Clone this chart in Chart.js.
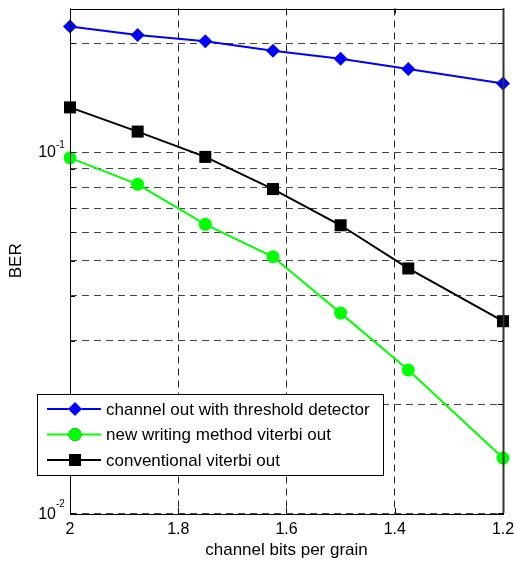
<!DOCTYPE html>
<html>
<head>
<meta charset="utf-8">
<script src="https://cdn.jsdelivr.net/npm/chart.js@4/dist/chart.umd.min.js"></script>
<style>
  html, body { margin: 0; padding: 0; background: #fff; }
  canvas { display: block; }
</style>
</head>
<body>
<canvas id="ber" width="515" height="561"></canvas>
<script>
const bitsPerGrain = [2, 1.875, 1.75, 1.625, 1.5, 1.375, 1.2]
const thresholdBER = [0.223, 0.211, 0.203, 0.191, 0.1815, 0.170, 0.155]
const newWritingBER = [0.0964, 0.0814, 0.0631, 0.0513, 0.0358, 0.0249, 0.0142]
const conventionalBER = [0.133, 0.114, 0.097, 0.079, 0.0627, 0.0476, 0.034]

const xTicks = [2, 1.8, 1.6, 1.4, 1.2]
const yGridTicks = [0.01, 0.02, 0.03, 0.04, 0.05, 0.06, 0.07, 0.08, 0.09, 0.1, 0.2]
const yLabelValues = [0.01, 0.1]
const yLabelExponents = ['-2', '-1']

const FONT = "'Liberation Sans', Arial, sans-serif"

const series = [
  { label: 'channel out with threshold detector', data: thresholdBER, color: '#0000ff', style: 'rectRot', radius: 7 },
  { label: 'new writing method viterbi out', data: newWritingBER, color: '#00ff00', style: 'circle', radius: 6.5 },
  { label: 'conventional viterbi out', data: conventionalBER, color: '#000000', style: 'rect', radius: 8.5 },
]

// box, inward ticks, log labels, axis titles and the legend, matlab style
const matlabDecor = {
  id: 'matlabDecor',
  afterDraw(chart) {
    const { ctx, chartArea: a, scales } = chart
    ctx.save()

    ctx.strokeStyle = '#000'
    ctx.lineWidth = 1
    ctx.setLineDash([])
    ctx.beginPath()
    xTicks.forEach(v => {
      const px = Math.round(scales.x.getPixelForValue(v)) + 0.5
      ctx.moveTo(px, a.bottom); ctx.lineTo(px, a.bottom - 5)
      ctx.moveTo(px, a.top); ctx.lineTo(px, a.top + 5)
    })
    yGridTicks.forEach(v => {
      const py = Math.round(scales.y.getPixelForValue(v)) + 0.5
      ctx.moveTo(a.left, py); ctx.lineTo(a.left + 5, py)
      ctx.moveTo(a.right, py); ctx.lineTo(a.right - 5, py)
    })
    ctx.stroke()

    ctx.strokeRect(Math.round(a.left) + 0.5, Math.round(a.top) + 0.5,
      Math.round(a.right - a.left), Math.round(a.bottom - a.top))
    ctx.strokeStyle = '#333'
    ctx.lineWidth = 2
    ctx.beginPath()
    ctx.moveTo(Math.round(a.right) + 0.5, a.top)
    ctx.lineTo(Math.round(a.right) + 0.5, a.bottom)
    ctx.stroke()

    // 10^n labels
    ctx.fillStyle = '#000'
    yLabelValues.forEach((v, i) => {
      const py = scales.y.getPixelForValue(v)
      ctx.font = '16px ' + FONT
      ctx.textAlign = 'right'
      ctx.textBaseline = 'alphabetic'
      ctx.fillText('10', 56, py + (i === 0 ? 6 : 5))
      ctx.font = '10px ' + FONT
      ctx.textAlign = 'left'
      ctx.fillText(yLabelExponents[i], 56, py - (i === 0 ? 6 : 4))
    })

    // axis titles
    ctx.font = '17px ' + FONT
    ctx.textAlign = 'center'
    ctx.textBaseline = 'middle'
    ctx.fillText('channel bits per grain', (a.left + a.right) / 2, 550)
    ctx.save()
    ctx.translate(16, (a.top + a.bottom) / 2)
    ctx.rotate(-Math.PI / 2)
    ctx.fillText('BER', 0, 0)
    ctx.restore()

    // legend
    const lx = 37, ly = 394, lw = 346, lh = 81
    ctx.fillStyle = '#fff'
    ctx.fillRect(lx, ly, lw, lh)
    ctx.strokeStyle = '#000'
    ctx.lineWidth = 1
    ctx.strokeRect(lx + 0.5, ly + 0.5, lw, lh)
    chart.data.datasets.forEach((ds, i) => {
      const y = ly + 15 + i * 25.5
      ctx.strokeStyle = ds.borderColor
      ctx.lineWidth = 2
      ctx.beginPath()
      ctx.moveTo(47, y); ctx.lineTo(101, y)
      ctx.stroke()
      Chart.helpers.drawPoint(ctx, {
        pointStyle: ds.pointStyle, radius: ds.pointRadius, rotation: 0, borderWidth: 0,
      }, 75, y)
      ctx.fillStyle = ds.pointBackgroundColor
      ctx.fill()
      ctx.fillStyle = '#000'
      ctx.font = '17px ' + FONT
      ctx.textAlign = 'left'
      ctx.textBaseline = 'middle'
      ctx.fillText(ds.label, 106, y + 1)
    })

    ctx.restore()
  },
}

new Chart(document.getElementById('ber'), {
  type: 'line',
  data: {
    datasets: series.map(s => {
      return {
        label: s.label,
        data: bitsPerGrain.map((x, i) => ({ x, y: s.data[i] })),
        borderColor: s.color,
        backgroundColor: s.color,
        pointBackgroundColor: s.color,
        pointBorderColor: s.color,
        pointBorderWidth: 0,
        pointStyle: s.style,
        pointRadius: s.radius,
        borderWidth: 2,
        tension: 0,
        clip: false,
      }
    }),
  },
  options: {
    responsive: false,
    animation: false,
    layout: { padding: { top: 7, right: 12, left: 0, bottom: 0 } },
    plugins: {
      legend: { display: false },
      tooltip: { enabled: false },
    },
    scales: {
      x: {
        type: 'linear',
        min: 1.2,
        max: 2,
        reverse: true,
        afterBuildTicks: s => { s.ticks = xTicks.map(v => ({ value: v })) },
        afterFit: s => {
          s.height = 48
          s.paddingLeft = 0
          s.paddingRight = 0
        },
        grid: { color: '#222', lineWidth: 1, drawTicks: false },
        border: { display: false, dash: [7, 5] },
        ticks: {
          autoSkip: false,
          maxRotation: 0,
          padding: 7,
          color: '#000',
          font: { family: FONT, size: 16 },
          callback: v => String(v),
        },
      },
      y: {
        type: 'logarithmic',
        min: 0.01,
        max: 0.25,
        afterBuildTicks: s => { s.ticks = yGridTicks.map(v => ({ value: v })) },
        afterFit: s => {
          s.width = 70
          s.paddingTop = 0
          s.paddingBottom = 0
        },
        grid: { color: '#444', lineWidth: 1, drawTicks: false },
        border: { display: false, dash: [7, 5] },
        ticks: { callback: () => '' },
      },
    },
  },
  plugins: [matlabDecor],
})
</script>
</body>
</html>
